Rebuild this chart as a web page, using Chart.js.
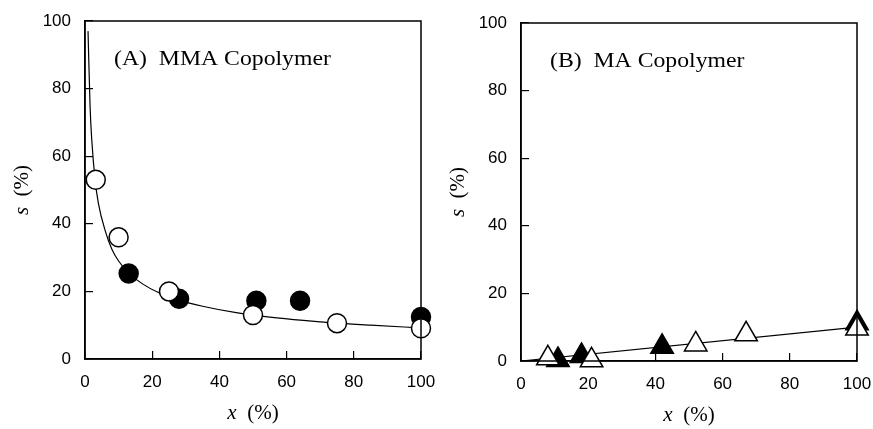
<!DOCTYPE html>
<html>
<head>
    <style>
        body, html {
            margin: 0;
            width: 873px;
            height: 429px;
            background: white;
            overflow: hidden;
        }
        .panel {
            position: absolute;
            width: 437px;
            height: 429px;
        }
        #panelA { left: 0; top: 0; }
        #panelB { left: 436px; top: 2px; }
    </style>
    <script src="https://cdn.jsdelivr.net/npm/chart.js"></script>
</head>
<body>
    <div class="panel" id="panelA"><canvas id="chartA"></canvas></div>
    <div class="panel" id="panelB"><canvas id="chartB"></canvas></div>

    <script>
        // (A) MMA copolymer
        const mmaOpenX = [3.2, 10, 25, 50, 75, 100];
        const mmaOpenS = [53, 36, 20, 13, 10.6, 9.1];
        const mmaFilledX = [13, 28, 51, 64, 100];
        const mmaFilledS = [25.3, 17.8, 17.2, 17.2, 12.4];
        // fitted curve
        const mmaCurveX = [0.9, 1.5, 2, 3, 4, 6, 8, 10, 13, 17, 22, 28, 35, 45, 55, 65, 75, 85, 100];
        const mmaCurveS = [97, 75, 65, 53, 46, 38, 32.5, 29, 25.5, 22.3, 19.6, 17.4, 15.6, 13.7, 12.4, 11.4, 10.6, 10, 9.2];

        // (B) MA copolymer
        const maOpenX = [8, 21, 52, 67, 100];
        const maOpenS = [0.8, 0.2, 4.9, 7.9, 9.6];
        const maFilledX = [11, 18, 42, 100];
        const maFilledS = [0.3, 1.5, 4.2, 11.2];
        const maLineX = [0, 100];
        const maLineS = [0, 10];

        const xTicks = [0, 20, 40, 60, 80, 100];
        const yTicks = [0, 20, 40, 60, 80, 100];

        function pts(xs, ys) {
            return xs.map((x, i) => ({ x: x, y: ys[i] }));
        }

        // frame, axis titles and panel label
        const decorPlugin = {
            id: 'decor',
            afterDraw(chart) {
                const ctx = chart.ctx;
                const a = chart.chartArea;
                const label = chart.options.plugins.decor.label;
                ctx.save();
                ctx.strokeStyle = '#000';
                ctx.lineWidth = 1.5;
                ctx.strokeRect(a.left, a.top, a.right - a.left, a.bottom - a.top);

                ctx.fillStyle = '#000';
                ctx.textBaseline = 'alphabetic';

                // panel label, slightly wide like the scan
                ctx.save();
                ctx.translate(a.left + 29, a.top + 44);
                ctx.scale(1.13, 1);
                ctx.font = '21px "Liberation Serif"';
                ctx.textAlign = 'left';
                ctx.fillText(label, 0, 0);
                ctx.restore();

                const drawTitle = (cx, cy, letter) => {
                    ctx.font = 'italic 21px "Liberation Serif"';
                    const w1 = ctx.measureText(letter + '  ').width;
                    ctx.font = '21px "Liberation Serif"';
                    const w2 = ctx.measureText('(%)').width;
                    let x0 = cx - (w1 + w2) / 2;
                    ctx.textAlign = 'left';
                    ctx.font = 'italic 21px "Liberation Serif"';
                    ctx.fillText(letter, x0, cy);
                    ctx.font = '21px "Liberation Serif"';
                    ctx.fillText('(%)', x0 + w1, cy);
                };
                drawTitle((a.left + a.right) / 2, 419, 'x');

                ctx.save();
                ctx.translate(28, (a.top + a.bottom) / 2);
                ctx.rotate(-Math.PI / 2);
                drawTitle(0, 0, 's');
                ctx.restore();

                ctx.restore();
            }
        };

        function makeChart(id, label, datasets) {
            const ctx = document.getElementById(id).getContext('2d');
            return new Chart(ctx, {
                type: 'scatter',
                data: { datasets: datasets },
                plugins: [decorPlugin],
                options: {
                    responsive: true,
                    maintainAspectRatio: false,
                    animation: false,
                    layout: {
                        padding: { top: 21, right: 16, left: 0, bottom: 0 }
                    },
                    scales: {
                        x: {
                            type: 'linear',
                            min: 0,
                            max: 100,
                            afterBuildTicks: (axis) => { axis.ticks = xTicks.map(v => ({ value: v })); },
                            afterFit: (axis) => {
                                axis.height = 70;
                                axis.paddingLeft = 0;
                                axis.paddingRight = 0;
                            },
                            grid: {
                                drawOnChartArea: false,
                                drawTicks: true,
                                tickLength: -8,
                                color: '#000',
                                lineWidth: 1.2
                            },
                            border: { display: true, color: '#000', width: 1.5 },
                            ticks: {
                                color: '#000',
                                padding: 21,
                                maxRotation: 0,
                                font: { family: '"Liberation Sans"', size: 17 }
                            }
                        },
                        y: {
                            type: 'linear',
                            min: 0,
                            max: 100,
                            afterBuildTicks: (axis) => { axis.ticks = yTicks.map(v => ({ value: v })); },
                            afterFit: (axis) => {
                                axis.width = 85;
                                axis.paddingTop = 0;
                                axis.paddingBottom = 0;
                            },
                            grid: {
                                drawOnChartArea: false,
                                drawTicks: true,
                                tickLength: -8,
                                color: '#000',
                                lineWidth: 1.2
                            },
                            border: { display: true, color: '#000', width: 1.5 },
                            ticks: {
                                color: '#000',
                                padding: 22,
                                font: { family: '"Liberation Sans"', size: 17 }
                            }
                        }
                    },
                    plugins: {
                        legend: { display: false },
                        tooltip: { enabled: false },
                        decor: { label: label }
                    }
                }
            });
        }

        makeChart('chartA', '(A)  MMA Copolymer', [
            {
                label: 'open',
                data: pts(mmaOpenX, mmaOpenS),
                pointStyle: 'circle',
                pointRadius: 9.5,
                borderWidth: 1.5,
                borderColor: '#000',
                backgroundColor: '#fff',
                clip: false,
                order: 0
            },
            {
                label: 'filled',
                data: pts(mmaFilledX, mmaFilledS),
                pointStyle: 'circle',
                pointRadius: 9.5,
                borderWidth: 1.5,
                borderColor: '#000',
                backgroundColor: '#000',
                clip: false,
                order: 1
            },
            {
                label: 'fit',
                data: pts(mmaCurveX, mmaCurveS),
                showLine: true,
                pointRadius: 0,
                borderColor: '#000',
                borderWidth: 1.2,
                cubicInterpolationMode: 'monotone',
                order: 2
            }
        ]);

        makeChart('chartB', '(B)  MA Copolymer', [
            {
                label: 'open',
                data: pts(maOpenX, maOpenS),
                pointStyle: 'triangle',
                pointRadius: 13,
                borderWidth: 1.5,
                borderColor: '#000',
                backgroundColor: '#fff',
                clip: false,
                order: 0
            },
            {
                label: 'filled',
                data: pts(maFilledX, maFilledS),
                pointStyle: 'triangle',
                pointRadius: 13,
                borderWidth: 1.5,
                borderColor: '#000',
                backgroundColor: '#000',
                clip: false,
                order: 1
            },
            {
                label: 'fit',
                data: pts(maLineX, maLineS),
                showLine: true,
                pointRadius: 0,
                borderColor: '#000',
                borderWidth: 1.2,
                order: 2
            }
        ]);
    </script>
</body>
</html>
